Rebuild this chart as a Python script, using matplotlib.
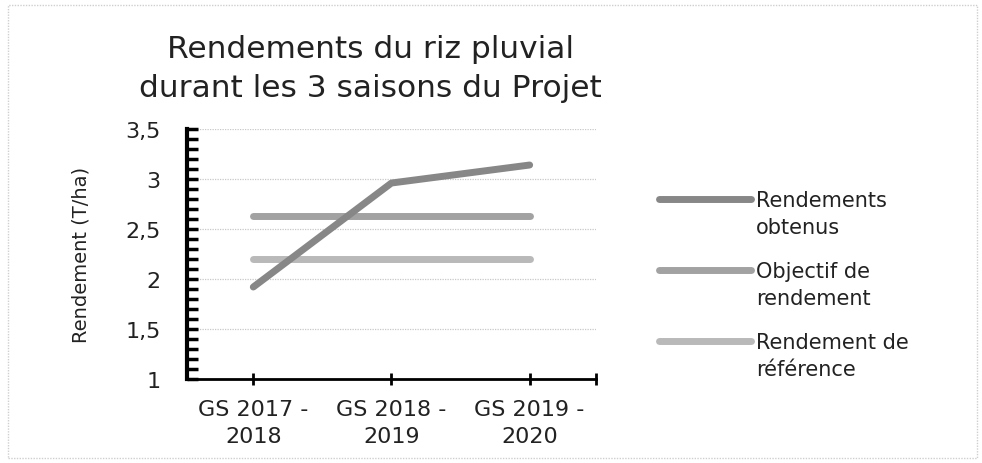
import matplotlib
matplotlib.use("Agg")
import matplotlib.pyplot as plt
from matplotlib.ticker import MultipleLocator, FixedLocator
from matplotlib.patches import Rectangle
from matplotlib.legend_handler import HandlerLine2D

# data
saisons = ["GS 2017 -\n2018", "GS 2018 -\n2019", "GS 2019 -\n2020"]
obtenus = [1.92, 2.96, 3.14]
objectif = [2.63, 2.63, 2.63]
reference = [2.20, 2.20, 2.20]
y_ticks = [1, 1.5, 2, 2.5, 3, 3.5]
y_labels = ["1", "1,5", "2", "2,5", "3", "3,5"]


class TopLine(HandlerLine2D):
    # put the legend line next to the first text line, not the middle
    def create_artists(self, legend, orig_handle, xdescent, ydescent,
                       width, height, fontsize, trans):
        arts = super().create_artists(legend, orig_handle, xdescent, ydescent,
                                      width, height, fontsize, trans)
        for a in arts:
            a.set_ydata([y + 11 for y in a.get_ydata()])
        return arts


fig = plt.figure(figsize=(9.82, 4.64), dpi=100)
ax = fig.add_axes([0.1904, 0.181, 0.4165, 0.5388])

x = range(len(saisons))
ax.plot(x, reference, color="#b9b9b9", lw=5, solid_capstyle="round", label="Rendement de\nréférence")
ax.plot(x, objectif, color="#a2a2a2", lw=5, solid_capstyle="round", label="Objectif de\nrendement")
ax.plot(x, obtenus, color="#878787", lw=5, solid_capstyle="round", label="Rendements\nobtenus")

ax.set_xlim(-0.48, 2.48)
ax.set_ylim(1, 3.5)
ax.set_xticks(list(x))
ax.set_xticklabels(saisons, fontsize=16, color="#222222", linespacing=1.45)
ax.xaxis.set_minor_locator(FixedLocator([2.48]))
ax.tick_params(axis="x", which="both", direction="inout", length=9, width=2, pad=10)
ax.set_yticks(y_ticks)
ax.set_yticklabels(y_labels, fontsize=16, color="#222222")
ax.yaxis.set_minor_locator(MultipleLocator(0.1))
ax.tick_params(axis="y", which="both", direction="in", length=8, width=2.5, pad=19)
ax.grid(axis="y", color="#c8c8c8", ls=(0, (1, 1)), lw=0.9)
ax.set_axisbelow(True)

for s in ["top", "right"]:
    ax.spines[s].set_visible(False)
ax.spines["left"].set_linewidth(3)
ax.spines["bottom"].set_linewidth(2)

ax.set_ylabel("Rendement (T/ha)", fontsize=14, color="#222222")
ax.yaxis.set_label_coords(-0.237, 0.5)

fig.text(0.377, 0.851, "Rendements du riz pluvial\ndurant les 3 saisons du Projet",
         ha="center", va="center", fontsize=22.5, color="#222222", linespacing=1.45)

h, l = ax.get_legend_handles_labels()
leg = fig.legend(h[::-1], l[::-1], loc="center left", bbox_to_anchor=(0.671, 0.385),
                 frameon=False, fontsize=15, handlelength=4.4, handletextpad=0.25,
                 labelspacing=1.14, borderpad=0, borderaxespad=0,
                 handler_map={hh: TopLine() for hh in h})
for t in leg.get_texts():
    t.set_color("#222222")
    t.set_linespacing(1.45)

fig.patches.append(Rectangle((0.008, 0.01), 0.987, 0.978, transform=fig.transFigure,
                             fill=False, ec="#cfcfcf", lw=1, ls=(0, (1, 1))))

fig.savefig("out.png", dpi=100)
